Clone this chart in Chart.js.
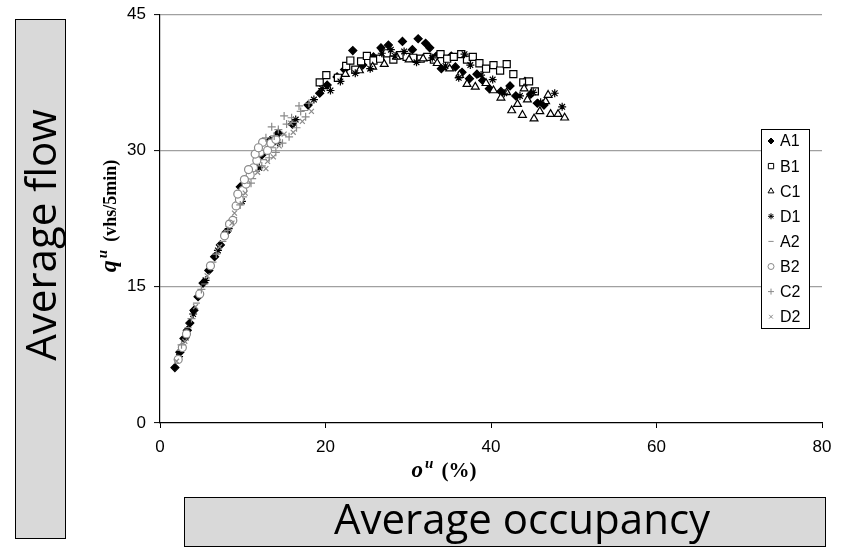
<!DOCTYPE html>
<html>
<head>
<meta charset="utf-8">
<script src="https://cdn.jsdelivr.net/npm/chart.js@4.4.1/dist/chart.umd.min.js"></script>
<style>
body { margin: 0; background: #fff; width: 850px; height: 549px; overflow: hidden; position: relative; }
#chart { position: absolute; left: 0; top: -4px; }
.box { position: absolute; background: #d9d9d9; border: 1.5px solid #000; box-sizing: border-box; }
.big { position: absolute; font-family: "Open Sans", sans-serif; font-size: 42px; color: #000; white-space: nowrap; text-align: center; }
.axt { position: absolute; font-family: "Liberation Serif", serif; font-weight: bold; color: #000; white-space: nowrap; text-align: center; }
.axt sup { font-style: italic; margin-left: 2px; margin-right: 8px; }
</style>
</head>
<body>
<canvas id="chart" width="850" height="553"></canvas>

<div class="box" style="left:15px; top:19px; width:51px; height:520px;"></div>
<div class="big" style="left:-160px; top:210px; width:400px; height:50px; line-height:50px; transform:rotate(-90deg);">Average flow</div>

<div class="box" style="left:184px; top:497px; width:642px; height:50px;"></div>
<div class="big" style="left:184px; top:493px; width:676px; height:50px; line-height:50px;">Average occupancy</div>

<div class="axt" style="left:344px; top:455px; width:200px;"><i style="font-size:23px">o</i><sup style="font-size:15px; vertical-align:9px">u</sup><span style="font-size:21px">(%)</span></div>
<div class="axt" style="left:-42px; top:202px; width:300px; transform:rotate(-90deg);"><i style="font-size:24px">q</i><sup style="font-size:15px; vertical-align:9px">u</sup><span style="font-size:18px">(vhs/5min)</span></div>

<script>
// --- data: [occupancy %, flow vhs/5min] ---
const a1 = [[1.8,6.1],[2.4,7.8],[2.9,9.3],[3.3,10.2],[3.6,11.0],[4.1,12.4],[4.6,13.9],[5.2,15.4],[5.9,16.8],[6.6,18.3],
  [7.3,19.6],[8.0,21.0],[8.6,22.1],[9.7,26.0],[10.9,27.8],[12.3,29.5],[13.3,31.1],[14.3,31.9],[16.0,32.9],
  [17.9,35.0],[19.3,36.3],[20.2,37.2],[21.4,38.1],[22.3,38.9],[23.3,41.0],[24.5,39.4],[25.8,40.3],[26.7,41.3],[27.6,41.6],
  [29.3,42.0],[30.5,41.1],[31.2,42.3],[32.1,41.8],[32.6,41.3],[33.4,40.4],[34.0,39.0],[35.2,40.4],[35.7,39.2],[36.5,38.6],
  [37.4,37.9],[38.3,38.4],[39.0,37.7],[39.8,36.8],[41.2,36.5],[42.3,37.1],[43.0,36.0],[44.1,37.6],[44.8,36.2],[45.6,35.2],[46.4,35.0]];
const b1 = [[19.3,37.5],[20.1,38.3],[21.5,38.0],[22.5,39.3],[23.0,39.9],[23.6,38.9],[24.3,39.8],[25.0,40.4],[25.8,39.9],[26.6,40.1],
  [27.4,40.7],[28.2,40.0],[29.0,40.5],[29.8,40.3],[30.6,40.2],[31.5,40.1],[32.3,40.3],[33.1,40.0],[33.9,40.6],[34.7,40.1],
  [35.5,40.3],[36.4,40.6],[37.1,40.0],[37.8,40.3],[38.6,39.6],[39.4,39.0],[40.3,39.4],[41.1,38.8],[41.9,39.5],[42.7,38.4],
  [43.9,37.5],[44.6,37.6],[45.3,36.5]];
const c1 = [[22.4,38.4],[24.1,38.8],[25.7,39.2],[27.1,39.5],[28.6,40.3],[30.1,40.0],[31.8,40.1],[33.5,39.6],[35.0,39.0],[36.2,38.3],
  [37.1,37.3],[38.1,37.0],[39.4,37.4],[40.3,36.6],[41.2,35.8],[41.9,36.4],[42.5,34.4],[43.2,35.1],[43.8,33.9],[44.4,35.6],
  [45.2,33.5],[45.9,34.3],[46.6,35.4],[47.2,34.0],[48.1,34.0],[48.9,33.6],[44.0,36.8],[46.9,36.1]];
const d1 = [[2.3,7.3],[3.1,9.4],[4.0,12.0],[5.5,15.7],[7.0,19.0],[8.3,21.4],[9.9,24.4],[12.0,28.1],[14.2,30.9],[16.4,33.4],
  [18.6,35.6],[19.6,36.8],[20.6,36.6],[21.8,37.6],[23.6,38.5],[25.4,39.0],[26.8,40.7],[28.4,40.4],[29.5,40.9],[31.0,39.7],
  [32.9,40.2],[34.5,39.3],[36.1,38.0],[37.5,39.4],[38.8,38.3],[40.2,37.8],[41.6,36.3],[43.5,36.0],[45.1,36.4],[46.0,35.3],
  [47.7,36.3],[48.6,34.8],[36.8,40.6],[27.9,41.1]];
const a2 = [[2.5,8.0],[3.4,10.5],[4.4,13.2],[5.4,15.3],[6.4,17.7],[7.6,20.0],[8.9,22.6],[10.1,24.9],[11.2,26.9],[12.5,29.0],
  [13.6,30.3],[14.9,31.7],[16.2,33.1],[17.5,34.4]];
const b2 = [[2.2,7.0],[2.7,8.3],[3.2,9.8],[4.8,14.2],[6.1,17.3],[7.8,20.6],[8.8,22.3],[9.2,23.9],[9.6,24.6],[10.0,25.6],
  [10.4,26.3],[10.9,27.3],[11.3,28.1],[11.7,28.9],[12.1,29.8],[12.6,30.4],[13.0,30.0],[13.4,30.8],[11.5,29.6],[10.7,27.9],
  [9.4,25.2],[12.4,30.9],[14.0,31.2],[8.4,21.9],[11.9,30.3],[10.2,26.8]];
const c2 = [[2.6,8.6],[3.8,11.5],[5.0,14.7],[6.8,18.6],[8.2,21.2],[9.7,24.0],[11.0,26.4],[12.3,28.3],[13.2,29.2],[13.8,31.6],
  [14.3,32.3],[14.8,30.8],[15.3,32.9],[15.9,33.6],[16.5,32.5],[17.0,34.3],[17.6,33.7],[18.0,35.2],[15.6,31.5],[14.0,29.8],
  [16.8,34.9],[13.5,32.6],[12.8,31.4],[15.0,33.8]];
const d2 = [[2.0,6.8],[3.0,9.0],[4.3,12.8],[5.7,16.2],[7.2,19.4],[8.7,22.0],[10.3,25.3],[11.8,27.6],[13.0,28.8],[14.4,30.5],
  [15.0,31.8],[16.1,32.0],[17.2,33.2],[18.3,34.3],[13.7,29.3],[12.8,28.0],[9.0,23.1],[15.8,33.0]];

const xTicks = [0, 20, 40, 60, 80];
const yTicks = [0, 15, 30, 45];

const BLACK = '#000';
const GRAY = '#8a8a8a';

const pts = arr => arr.map(([x, y]) => ({ x, y }));

// later series sit on top, as in the original
function series(label, arr, style, radius, color, filled, order) {
  return {
    label: label,
    data: pts(arr),
    pointStyle: style,
    pointRadius: radius,
    pointHoverRadius: radius,
    borderWidth: 1.2,
    borderColor: color,
    backgroundColor: filled ? color : '#fff',
    showLine: false,
    order: order
  };
}

// Custom legend box, drawn inside the plot like the original
const legendBox = {
  id: 'legendBox',
  afterDraw(chart) {
    const ctx = chart.ctx;
    const x = 761, y = 133, w = 48, h = 199;
    ctx.save();
    ctx.fillStyle = '#fff';
    ctx.fillRect(x, y, w, h);
    ctx.strokeStyle = '#000';
    ctx.lineWidth = 1;
    ctx.strokeRect(x + 0.5, y + 0.5, w, h);
    ctx.font = '16px "Liberation Sans", Arial, sans-serif';
    ctx.textBaseline = 'middle';
    chart.data.datasets.forEach((ds, i) => {
      const cy = y + 12 + i * 25.1;
      ctx.fillStyle = ds.backgroundColor;
      ctx.strokeStyle = ds.borderColor;
      ctx.lineWidth = 1;
      Chart.helpers.drawPoint(ctx, { pointStyle: ds.pointStyle, radius: ds.pointRadius * 0.75, borderWidth: 1, rotation: 0 }, x + 10, cy);
      ctx.fillStyle = '#000';
      ctx.fillText(ds.label, x + 19, cy + 1);
    });
    ctx.restore();
  }
};

new Chart(document.getElementById('chart'), {
  type: 'scatter',
  data: {
    datasets: [
      series('A1', a1, 'rectRot', 4, BLACK, true, 8),
      series('B1', b1, 'rect', 5, BLACK, false, 7),
      series('C1', c1, 'triangle', 4.5, BLACK, false, 6),
      series('D1', d1, 'star', 4, BLACK, false, 5),
      series('A2', a2, 'line', 3.5, GRAY, false, 4),
      series('B2', b2, 'circle', 4, GRAY, false, 3),
      series('C2', c2, 'cross', 4, GRAY, false, 2),
      series('D2', d2, 'crossRot', 3.5, GRAY, false, 1)
    ]
  },
  options: {
    responsive: false,
    animation: false,
    layout: { padding: { top: 10, right: 28, left: 0, bottom: 0 } },
    plugins: { legend: { display: false }, tooltip: { enabled: false } },
    scales: {
      x: {
        type: 'linear',
        min: 0, max: 80,
        afterBuildTicks: s => { s.ticks = xTicks.map(v => ({ value: v })); },
        afterFit: s => { s.height = 126; },
        ticks: { color: '#000', font: { family: '"Liberation Sans", Arial', size: 17 }, padding: 9, maxRotation: 0 },
        grid: { drawOnChartArea: false, tickLength: 5, tickColor: '#000', tickWidth: 1 },
        border: { color: '#000', width: 1.2 }
      },
      y: {
        type: 'linear',
        min: 0, max: 45,
        afterBuildTicks: s => { s.ticks = yTicks.map(v => ({ value: v })); },
        afterFit: s => { s.width = 160; },
        ticks: { color: '#000', font: { family: '"Liberation Sans", Arial', size: 17 }, padding: 8 },
        grid: {
          color: ctx => ctx.tick && ctx.tick.value === 0 ? 'rgba(0,0,0,0)' : '#a0a0a0',
          lineWidth: 1.2, tickLength: 6, tickColor: '#000', tickWidth: 1
        },
        border: { color: '#000', width: 1.2 }
      }
    }
  },
  plugins: [legendBox]
});
</script>
</body>
</html>
